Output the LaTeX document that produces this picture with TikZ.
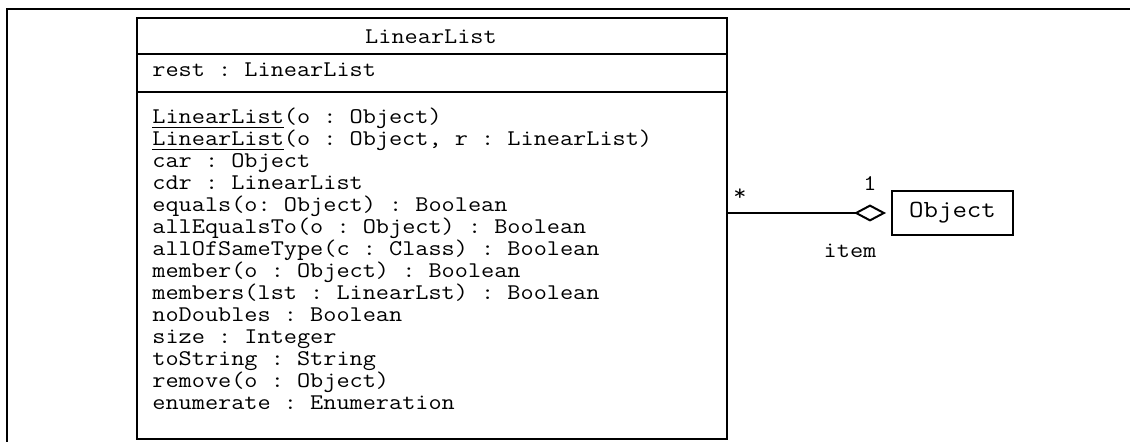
\documentclass[tikz,border=0pt]{standalone}
\usepackage{fontspec}
\setmonofont[FakeStretch=1.14]{Latin Modern Mono}
\usetikzlibrary{arrows.meta}

\tikzset{
  uml/.style={font=\ttfamily\fontsize{11.2}{11}\selectfont},
  umlline/.style={anchor=base west, inner sep=0pt, uml},
  classbox/.style={draw, line width=1pt, rectangle, inner sep=0pt},
}

\begin{document}
\begin{tikzpicture}[x=0.5pt, y=-0.5pt]
  \useasboundingbox (0,0) rectangle (1130,442);
  \draw[line width=1pt] (1130,9) -- (7,9) -- (7,442);
  \node[classbox, anchor=north west, minimum width=295pt, minimum height=210.5pt] (list) at (136,17) {};
  \draw[line width=1pt] (list.west |- 0,54) -- (list.east |- 0,54);
  \draw[line width=1pt] (list.west |- 0,92) -- (list.east |- 0,92);
  \node[uml, anchor=base, inner sep=0pt] (title) at (431,44) {LinearList};
  \node[umlline] (rest) at (152,77) {rest : LinearList};
  \foreach \txt [count=\i from 0] in {
    {\underline{LinearList}(o : Object)},
    {\underline{LinearList}(o : Object, r : LinearList)},
    car : Object,
    cdr : LinearList,
    equals(o: Object) : Boolean,
    allEqualsTo(o : Object) : Boolean,
    allOfSameType(c : Class) : Boolean,
    member(o : Object) : Boolean,
    members(lst : LinearLst) : Boolean,
    noDoubles : Boolean,
    size : Integer,
    toString : String,
    remove(o : Object),
    enumerate : Enumeration}
    \node[umlline] (m\i) at (152,124+22*\i) {\txt};
  \node[classbox, font=\ttfamily\fontsize{12.3}{12}\selectfont, minimum width=60.5pt, minimum height=22pt] (obj) at (952.5,213) {Object};
  \draw[line width=1pt, -{Diamond[open, length=16pt, width=8.5pt]}, shorten >=2.5pt]
    (list.east |- obj.west) -- (obj.west);
  \node[uml, anchor=base, inner sep=0pt] (many) at (740,201) {*};
  \node[uml, anchor=base, inner sep=0pt] (one) at (870,191) {1};
  \node[uml, anchor=base, inner sep=0pt] (role) at (850,258) {item};
\end{tikzpicture}
\end{document}
